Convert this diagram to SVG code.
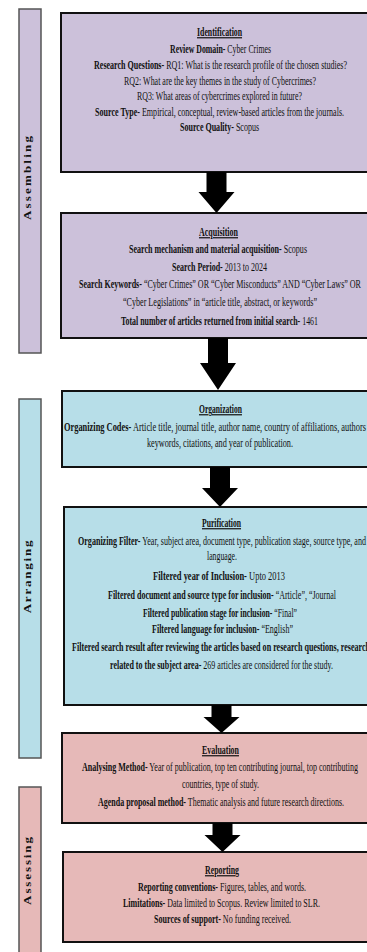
<svg xmlns="http://www.w3.org/2000/svg" width="367" height="952" viewBox="0 0 367 952">
<style>
.t{font-family:"Liberation Serif","Times New Roman",serif;font-size:12px;fill:#111;}
.b{font-weight:bold;}
.h{font-weight:bold;text-decoration:underline;}
.box{stroke:#111;stroke-width:2;}
.bar{stroke:#555;stroke-width:1.5;}
.pu{fill:#ccc1da;}
.bl{fill:#b7dee8;}
.pk{fill:#e6b9b8;}
.lab{font-family:"Liberation Serif","Times New Roman",serif;font-size:13px;font-weight:bold;fill:#111;}
.arr{fill:#000;}
</style>
<rect width="367" height="952" fill="#fff"/>

<g id="stage-assembling">
<rect class="bar pu" x="19" y="9" width="22" height="344"/>
<text class="lab" transform="translate(31,177) rotate(-90) scale(1,0.85)" text-anchor="middle" letter-spacing="2.2">Assembling</text>
</g>
<g id="stage-arranging">
<rect class="bar bl" x="19" y="399" width="22" height="359"/>
<text class="lab" transform="translate(31,576) rotate(-90) scale(1,0.85)" text-anchor="middle" letter-spacing="1.8">Arranging</text>
</g>
<g id="stage-assessing">
<rect class="bar pk" x="19" y="787" width="22" height="175"/>
<text class="lab" transform="translate(31,870) rotate(-90) scale(1,0.85)" text-anchor="middle" letter-spacing="1.9">Assessing</text>
</g>

<g id="identification">
<rect class="box pu" x="61" y="13" width="320" height="159"/>
<g transform="translate(220,0) scale(0.68,1)">
<text class="t h" x="-33.8" y="36" textLength="66.2" lengthAdjust="spacingAndGlyphs">Identification</text>
<text class="t" x="-73.5" y="53" textLength="148.5" lengthAdjust="spacingAndGlyphs"><tspan class="b">Review Domain-</tspan> Cyber Crimes</text>
<text class="t" x="-185.3" y="69" textLength="372.1" lengthAdjust="spacingAndGlyphs"><tspan class="b">Research Questions-</tspan> RQ1: What is the research profile of the chosen studies?</text>
<text class="t" x="-141.2" y="85" textLength="282.4" lengthAdjust="spacingAndGlyphs">RQ2: What are the key themes in the study of Cybercrimes?</text>
<text class="t" x="-122.1" y="100" textLength="242.6" lengthAdjust="spacingAndGlyphs">RQ3: What areas of cybercrimes explored in future?</text>
<text class="t" x="-183.8" y="116" textLength="366.2" lengthAdjust="spacingAndGlyphs"><tspan class="b">Source Type-</tspan> Empirical, conceptual, review-based articles  from the journals.</text>
<text class="t" x="-58.8" y="131" textLength="116.2" lengthAdjust="spacingAndGlyphs"><tspan class="b">Source Quality-</tspan> Scopus</text>
</g>
</g>

<g id="acquisition">
<rect class="box pu" x="61" y="213" width="320" height="125"/>
<g transform="translate(220,0) scale(0.68,1)">
<text class="t h" x="-30.9" y="236" textLength="57.4" lengthAdjust="spacingAndGlyphs">Acquisition</text>
<text class="t" x="-133.8" y="253" textLength="261.8" lengthAdjust="spacingAndGlyphs"><tspan class="b">Search mechanism and material acquisition-</tspan> Scopus</text>
<text class="t" x="-70.6" y="271" textLength="139.7" lengthAdjust="spacingAndGlyphs"><tspan class="b">Search Period-</tspan> 2013 to 2024</text>
<text class="t" x="-207.4" y="288" textLength="414.7" lengthAdjust="spacingAndGlyphs"><tspan class="b">Search Keywords-</tspan> “Cyber Crimes” OR “Cyber Misconducts” AND “Cyber Laws” OR</text>
<text class="t" x="-142.6" y="306" textLength="285.3" lengthAdjust="spacingAndGlyphs">“Cyber Legislations” in “article title, abstract, or keywords”</text>
<text class="t" x="-145.6" y="325" textLength="289.7" lengthAdjust="spacingAndGlyphs"><tspan class="b">Total number of articles  returned from initial search-</tspan> 1461</text>
</g>
</g>

<g id="organization">
<rect class="box bl" x="62" y="391" width="320" height="76"/>
<g transform="translate(220,0) scale(0.68,1)">
<text class="t h" x="-30.9" y="413" textLength="63.2" lengthAdjust="spacingAndGlyphs">Organization</text>
<text class="t" x="-229.4" y="431" textLength="444.1" lengthAdjust="spacingAndGlyphs"><tspan class="b">Organizing Codes-</tspan> Article title, journal title, author name, country of affiliations,  authors</text>
<text class="t" x="-107.4" y="447" textLength="214.7" lengthAdjust="spacingAndGlyphs">keywords, citations,  and year of publication.</text>
</g>
</g>

<g id="purification">
<rect class="box bl" x="64" y="507" width="320" height="198"/>
<g transform="translate(220,0) scale(0.68,1)">
<text class="t h" x="-26.5" y="527" textLength="57.4" lengthAdjust="spacingAndGlyphs">Purification</text>
<text class="t" x="-208.8" y="545" textLength="423.5" lengthAdjust="spacingAndGlyphs"><tspan class="b">Organizing Filter-</tspan> Year, subject area, document type, publication  stage, source type, and</text>
<text class="t" x="-19.1" y="560" textLength="44.1" lengthAdjust="spacingAndGlyphs">language.</text>
<text class="t" x="-98.5" y="580" textLength="194.1" lengthAdjust="spacingAndGlyphs"><tspan class="b">Filtered year of Inclusion-</tspan> Upto 2013</text>
<text class="t" x="-164.7" y="599" textLength="335.3" lengthAdjust="spacingAndGlyphs"><tspan class="b">Filtered document and source type for inclusion-</tspan> “Article”, “Journal</text>
<text class="t" x="-113.2" y="617" textLength="226.5" lengthAdjust="spacingAndGlyphs"><tspan class="b">Filtered publication stage for inclusion-</tspan> “Final”</text>
<text class="t" x="-100" y="633" textLength="207.4" lengthAdjust="spacingAndGlyphs"><tspan class="b">Filtered language for inclusion-</tspan> “English”</text>
<text class="t b" x="-217.6" y="651" textLength="438.2" lengthAdjust="spacingAndGlyphs">Filtered search result after reviewing the articles based on research questions, research</text>
<text class="t" x="-161.8" y="669" textLength="327.9" lengthAdjust="spacingAndGlyphs"><tspan class="b">related  to the subject area-</tspan> 269 articles  are considered  for the study.</text>
</g>
</g>

<g id="evaluation">
<rect class="box pk" x="62" y="733" width="320" height="90"/>
<g transform="translate(220,0) scale(0.68,1)">
<text class="t h" x="-26.5" y="754" textLength="54.4" lengthAdjust="spacingAndGlyphs">Evaluation</text>
<text class="t" x="-202.9" y="771" textLength="405.9" lengthAdjust="spacingAndGlyphs"><tspan class="b">Analysing Method-</tspan> Year of publication, top ten contributing journal, top contributing</text>
<text class="t" x="-55.9" y="788" textLength="113.2" lengthAdjust="spacingAndGlyphs">countries, type of study.</text>
<text class="t" x="-179.4" y="806" textLength="361.8" lengthAdjust="spacingAndGlyphs"><tspan class="b">Agenda proposal method-</tspan> Thematic  analysis and future research directions.</text>
</g>
</g>

<g id="reporting">
<rect class="box pk" x="63" y="852" width="320" height="90"/>
<g transform="translate(220,0) scale(0.68,1)">
<text class="t h" x="-22.1" y="874" textLength="50" lengthAdjust="spacingAndGlyphs">Reporting</text>
<text class="t" x="-120.6" y="891" textLength="247.1" lengthAdjust="spacingAndGlyphs"><tspan class="b">Reporting conventions-</tspan> Figures, tables, and words.</text>
<text class="t" x="-142.6" y="907" textLength="289.7" lengthAdjust="spacingAndGlyphs"><tspan class="b">Limitations-</tspan> Data limited to Scopus. Review limited to SLR.</text>
<text class="t" x="-97.1" y="923" textLength="201.5" lengthAdjust="spacingAndGlyphs"><tspan class="b">Sources of support-</tspan> No funding received.</text>
</g>
</g>

<g id="connectors">
<polygon class="arr" points="206.5,172 226.5,172 226.5,192 234.5,192 216.5,213 198.5,192 206.5,192"/>
<polygon class="arr" points="208,338 228,338 228,363 236,363 218,390 200,363 208,363"/>
<polygon class="arr" points="210,467 230,467 230,488 238,488 220,507 202,488 210,488"/>
<polygon class="arr" points="211.5,705 231.5,705 231.5,717 239.5,717 221.5,733 203.5,717 211.5,717"/>
<polygon class="arr" points="212.5,823 232.5,823 232.5,835 240.5,835 222.5,852 204.5,835 212.5,835"/>
</g>
</svg>
